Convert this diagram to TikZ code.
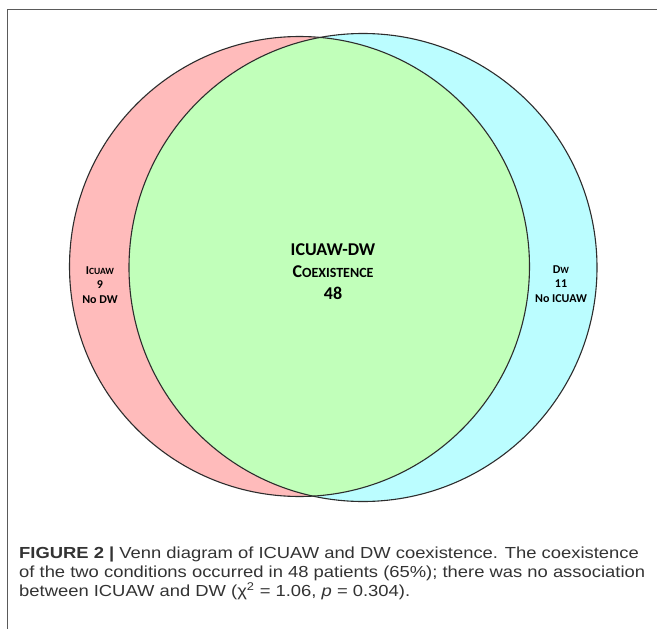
\documentclass[tikz,border=0pt]{standalone}
\usepackage{fontspec}
\setmainfont{Carlito}
\newfontfamily\capfont[FakeStretch=1.15]{Liberation Sans}
\usetikzlibrary{positioning}
\definecolor{icuawred}{RGB}{255,187,187}
\definecolor{dwcyan}{RGB}{187,253,255}
\definecolor{bothgreen}{RGB}{193,255,186}
\definecolor{setgray}{RGB}{45,45,45}
\definecolor{framegray}{RGB}{90,90,90}
\newcommand{\smallcp}[1]{{\fontsize{9.5}{14.5}\selectfont #1}}
\newcommand{\bigsmallcp}[1]{{\fontsize{14}{22}\selectfont #1}}

\begin{document}
\begin{tikzpicture}[
		x=1pt, y=-1pt,
		setline/.style={draw=setgray, line width=1.1pt},
		sidelabel/.style={font=\fontsize{12}{14.5}\selectfont\bfseries, align=center, inner sep=0pt},
		midlabel/.style={font=\fontsize{18}{22}\selectfont\bfseries, align=center, inner sep=0pt},
		captext/.style={font=\capfont\fontsize{16}{19}\selectfont, align=left, inner sep=0pt, text=black!80}
	]
	\useasboundingbox (0,0) rectangle (657,629);
	\fill[white] (0,0) rectangle (657,629);
	\draw[framegray, line width=1pt] (7,9) rectangle (700,700);

	% the two sets
	\coordinate (icuawc) at (299.5,266.5);
	\coordinate (dwc) at (363,267.5);
	\fill[icuawred] (icuawc) circle (230pt);
	\fill[dwcyan] (dwc) circle (234pt);
	\begin{scope}
		\clip (icuawc) circle (230pt);
		\fill[bothgreen] (dwc) circle (234pt);
	\end{scope}
	\draw[setline] (icuawc) circle (230pt);
	\draw[setline] (dwc) circle (234pt);

	% labels
	\node[sidelabel] (onlyicuaw) at (100,285) {I\smallcp{CUAW}\\9\\No DW};
	\node[sidelabel] (onlydw) at (561,284) {D\smallcp{W}\\11\\No ICUAW};
	\node[midlabel] (both) at (333,272) {ICUAW-DW\\{\fontsize{18}{22}\selectfont C}\bigsmallcp{OEXISTENCE}\\48};

	\node[captext, anchor=north west] (caption) at (19,547) {\textbf{FIGURE 2 |} Venn diagram of ICUAW and DW coexistence. The coexistence\\of the two conditions occurred in 48 patients (65\%); there was no association\\between ICUAW and DW (χ\textsuperscript{2} = 1.06, \textit{p} = 0.304).};
\end{tikzpicture}
\end{document}
